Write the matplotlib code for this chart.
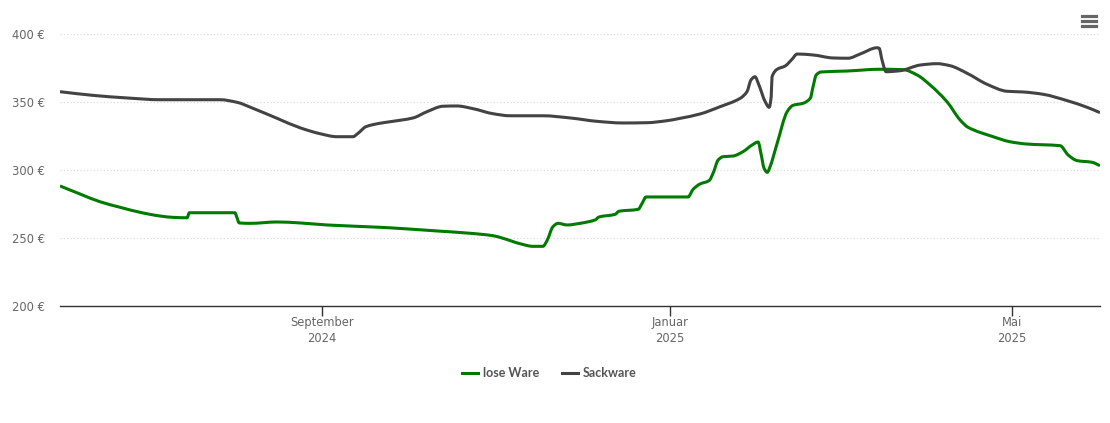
import numpy as np
import matplotlib
matplotlib.use('Agg')
import matplotlib.pyplot as plt
from matplotlib.lines import Line2D
from matplotlib.path import Path
from matplotlib.patches import PathPatch

# days since 1 June 2024, prices in euro
lose_days = [0, 7.0, 14.0, 21.1, 28.1, 35.1, 39.7, 44.6, 45.4, 61.4, 62.0, 62.9, 66.7, 76.2, 84.2, 93.7,
             112.3, 120.4, 132.3, 143.9, 152.0, 155.5, 161.5, 166.0, 169.5, 170.9, 173.0, 174.8, 178.0,
             182.5, 187.8, 189.2, 194.8, 196.2, 202.9, 204.3, 205.7, 220.4, 222.2, 224.6, 227.8, 229.2,
             231.0, 232.7, 236.2, 239.7, 242.9, 245.0, 246.0, 247.1, 248.2, 249.2, 251.7, 255.2, 257.3,
             260.8, 263.3, 264.3, 265.4, 267.1, 276.2, 287.8, 295.9, 300.8, 305.4, 311.3, 315.9, 318.7,
             327.5, 333.4, 339.4, 351.0, 353.8, 357.0, 362.2, 365.0]
lose_ware = [288.5, 282.6, 276.9, 272.8, 269.1, 266.4, 265.4, 265.1, 268.8, 268.8, 265.9, 261.3, 261.0, 262.0, 261.3, 259.8,
             258.1, 257.1, 255.4, 253.7, 251.9, 250.0, 246.0, 244.1, 244.1, 248.2, 258.5, 261.0, 259.8,
             261.0, 263.5, 265.7, 267.6, 269.9, 271.3, 275.7, 280.4, 280.4, 286.0, 289.9, 292.4, 297.8,
             307.6, 310.0, 310.5, 313.7, 318.6, 320.8, 312.5, 301.5, 298.5, 302.6, 319.9, 343.1, 347.8,
             349.3, 352.9, 361.5, 370.1, 372.3, 373.0, 374.3, 374.0, 370.1, 362.7, 350.4, 337.0, 331.6,
             324.7, 321.0, 319.3, 318.1, 311.3, 307.1, 305.9, 303.4]

sack_days = [0, 11.6, 23.5, 35.1, 56.2, 62.1, 67.7, 76.2, 84.2, 91.3, 97.2, 102.8, 104.6, 107.4, 112.3,
             115.8, 123.9, 128.8, 134.4, 139.3, 145.0, 152.0, 158.0, 169.5, 179.0, 188.5, 197.6, 206.0,
             213.1, 217.6, 224.6, 231.7, 238.7, 241.1, 242.5, 243.9, 245.3, 247.5, 248.9, 249.6, 249.9,
             251.7, 254.5, 256.9, 258.7, 264.3, 271.3, 276.6, 280.8, 286.8, 287.5, 288.5, 289.9, 294.8,
             301.9, 307.8, 312.4, 318.4, 325.4, 332.4, 338.0, 345.0, 353.5, 360.5, 365.0]
sackware = [357.8, 355.1, 353.2, 351.9, 351.9, 350.0, 345.6, 338.2, 331.3, 326.9, 324.7, 324.7, 327.2, 332.1, 334.6,
            335.7, 338.5, 343.1, 347.1, 347.3, 345.3, 341.6, 340.1, 340.1, 338.5, 336.0, 334.8, 335.0,
            336.5, 338.2, 341.4, 346.8, 352.9, 357.8, 366.4, 368.8, 362.7, 350.4, 346.3, 354.1, 368.8,
            374.3, 376.7, 381.6, 385.5, 384.8, 382.6, 382.4, 385.5, 390.1, 389.7, 381.1, 372.5, 373.2,
            377.4, 378.4, 376.9, 371.3, 363.2, 358.1, 357.6, 355.9, 351.2, 346.3, 342.4]

y_ticks = [200, 250, 300, 350, 400]
x_ticks = [92, 214, 334]
x_labels = ['September\n2024', 'Januar\n2025', 'Mai\n2025']

W, H = 1110, 423
fig = plt.figure(figsize=(W / 100, H / 100), dpi=100)
ax = fig.add_axes([60 / W, 1 - 306.3 / H, 1040 / W, 272 / H])


def spline_path(xs, ys):
    # bezier through the points, flat at local turns so nothing overshoots
    xs = np.array(xs, dtype=float)
    ys = np.array(ys, dtype=float)
    dx = np.diff(xs)
    s = np.diff(ys) / dx
    m = np.zeros(len(xs))
    m[0], m[-1] = s[0], s[-1]
    for i in range(1, len(xs) - 1):
        if s[i - 1] * s[i] > 0:
            m[i] = 2 * s[i - 1] * s[i] / (s[i - 1] + s[i])
    verts = [(xs[0], ys[0])]
    codes = [Path.MOVETO]
    for i in range(len(dx)):
        verts.append((xs[i] + dx[i] / 3, ys[i] + m[i] * dx[i] / 3))
        verts.append((xs[i + 1] - dx[i] / 3, ys[i + 1] - m[i + 1] * dx[i] / 3))
        verts.append((xs[i + 1], ys[i + 1]))
        codes += [Path.CURVE4] * 3
    return Path(verts, codes)


ax.add_patch(PathPatch(spline_path(lose_days, lose_ware), fill=False, edgecolor='#007a00', lw=2.2,
                       joinstyle='round', capstyle='butt', zorder=3))
ax.add_patch(PathPatch(spline_path(sack_days, sackware), fill=False, edgecolor='#434343', lw=2.2,
                       joinstyle='round', capstyle='butt', zorder=3))

ax.set_xlim(0, 365)
ax.set_ylim(200, 400)
for s in ['top', 'left', 'right']:
    ax.spines[s].set_visible(False)
ax.spines['bottom'].set_color('#333333')
ax.spines['bottom'].set_linewidth(1)

ax.set_yticks(y_ticks)
ax.set_yticklabels([f'{v} €' for v in y_ticks])
ax.tick_params(axis='y', length=0, pad=10.7, labelsize=8.3, labelcolor='#666666')
ax.set_xticks(x_ticks)
ax.set_xticklabels(x_labels, linespacing=1.28)
ax.tick_params(axis='x', length=7, width=1, color='#333333', pad=0.2, labelsize=8.3, labelcolor='#666666')
ax.grid(axis='y', color='#d8d8d8', lw=0.8, ls=(0, (1, 2)))
ax.set_axisbelow(True)


# legend drawn by hand to hit the spacing
def legend_item(x0, color, label):
    fig.add_artist(Line2D([x0 / W, (x0 + 16) / W], [1 - 372.5 / H] * 2, color=color, lw=2.2))
    fig.text((x0 + 21) / W, 1 - 372.5 / H, label, color='#555555', fontsize=9, fontweight='bold',
             family='Lato', va='center', ha='left')


legend_item(462, '#007a00', 'lose Ware')
legend_item(562, '#434343', 'Sackware')

# menu icon top right
for y in [16, 21.5, 26.5]:
    fig.add_artist(Line2D([1082 / W, 1096 / W], [1 - y / H] * 2, color='#666666', lw=2.3))

fig.savefig('out.png', dpi=100)
